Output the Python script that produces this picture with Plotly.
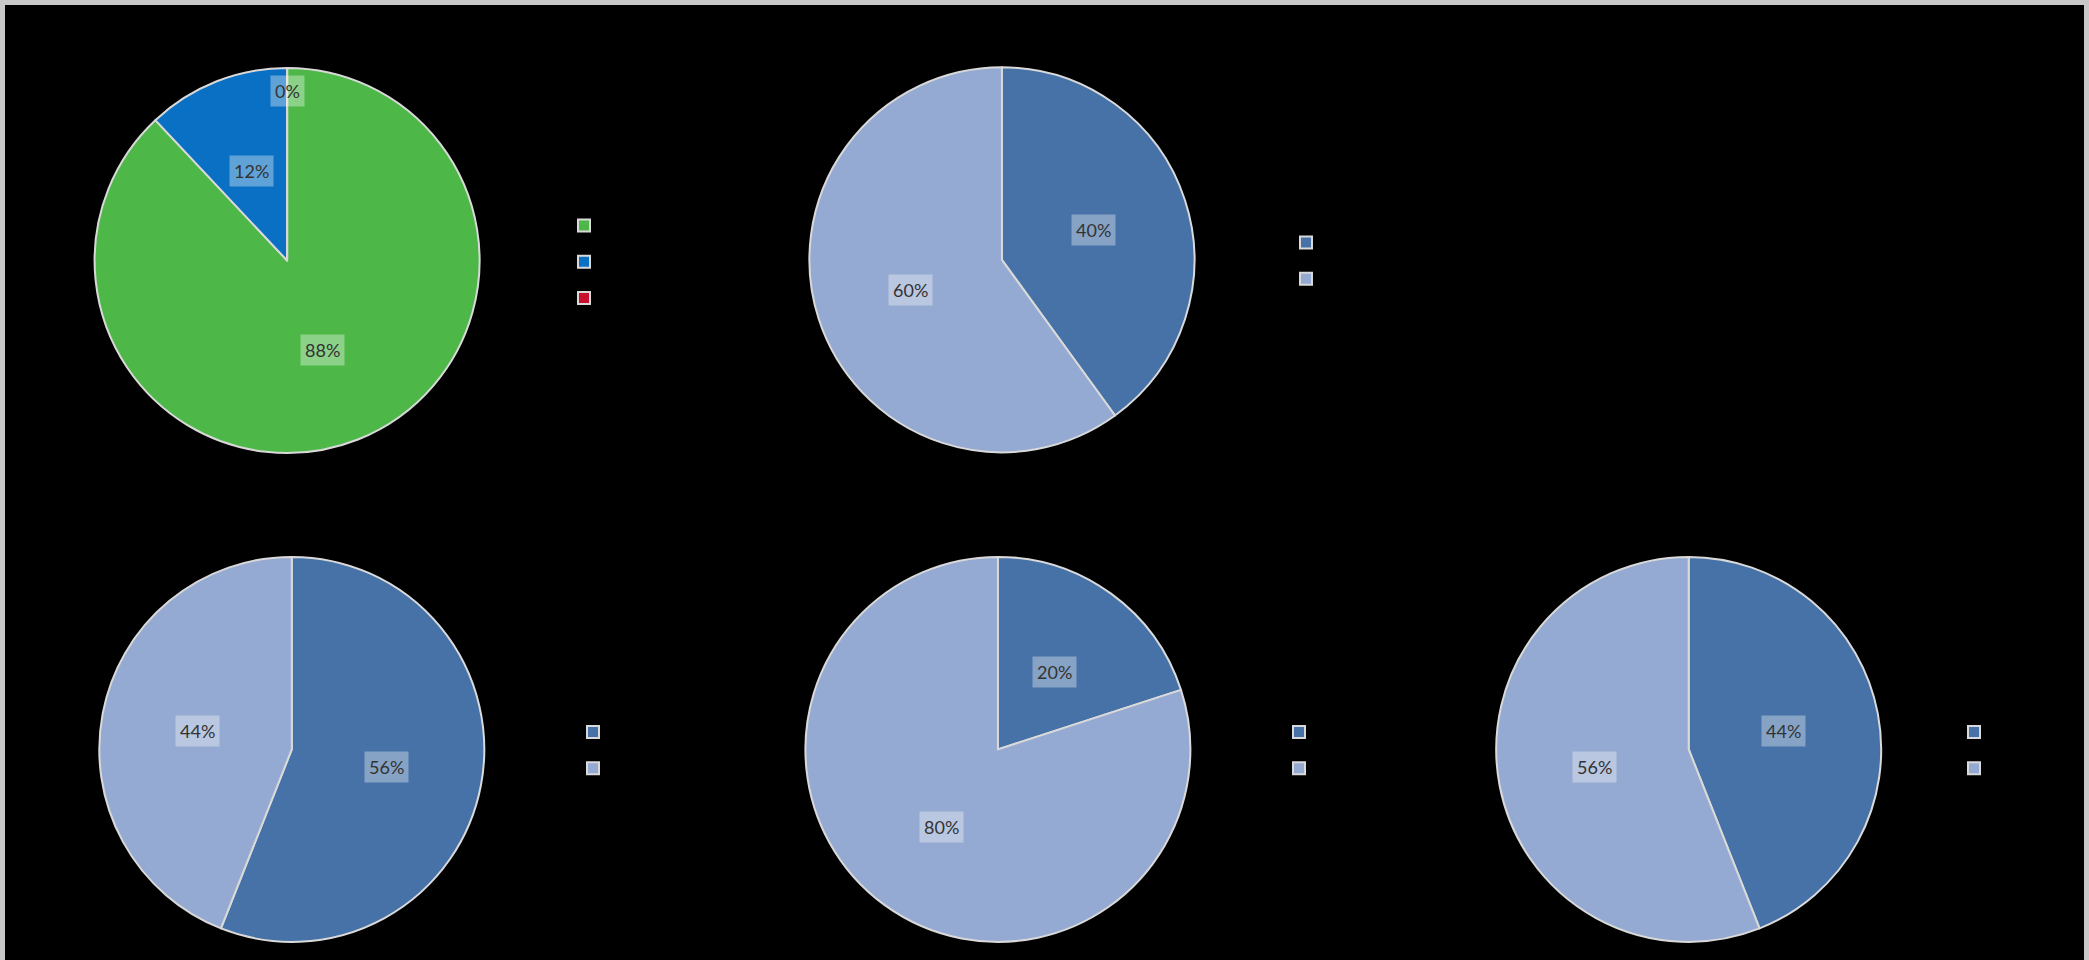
import math
import plotly.graph_objects as go

W, H = 2089, 960

# ---- data ----
pie1_labels = ["Yes 1", "No 1", "N/A 1"]
pie1_values = [88, 12, 0]
pie2_labels = ["Yes 2", "No 2"]
pie2_values = [40, 60]
pie3_labels = ["Yes 3", "No 3"]
pie3_values = [56, 44]
pie4_labels = ["Yes 4", "No 4"]
pie4_values = [20, 80]
pie5_labels = ["Yes 5", "No 5"]
pie5_values = [44, 56]

pie1_colors = ["#4DB848", "#0A70C4", "#C8102E"]
blue_colors = ["#4672A8", "#95AAD2"]

# layout: pie centres (px) and radius
R = 192.5
pies = [
    (pie1_labels, pie1_values, pie1_colors, (287.1, 260.5), (584, 262)),
    (pie2_labels, pie2_values, blue_colors, (1001.9, 259.8), (1306, 261)),
    (pie3_labels, pie3_values, blue_colors, (291.8, 749.4), (593, 750.5)),
    (pie4_labels, pie4_values, blue_colors, (997.9, 749.4), (1299, 750.5)),
    (pie5_labels, pie5_values, blue_colors, (1688.7, 749.4), (1974, 750.5)),
]

fig = go.Figure()
annotations = []
layout_legends = {}

for i, (labels, values, colors, (cx, cy), (lx, ly)) in enumerate(pies):
    legend_name = "legend" if i == 0 else f"legend{i+1}"
    fig.add_trace(go.Pie(
        labels=labels, values=values, sort=False, direction="clockwise", rotation=0,
        marker=dict(colors=colors, line=dict(color="#D9D9D9", width=2)),
        textinfo="none", hoverinfo="label+percent",
        domain=dict(x=[(cx - R) / W, (cx + R) / W], y=[1 - (cy + R) / H, 1 - (cy - R) / H]),
        legend=legend_name, showlegend=True,
    ))
    total = sum(values)
    cum = 0
    for v in values:
        frac = v / total
        mid = (cum + frac / 2) * 2 * math.pi
        cum += frac
        dist = 0.5 * R if v > 0 else 0.88 * R
        px = cx + math.sin(mid) * dist
        py = cy - math.cos(mid) * dist
        annotations.append(dict(
            x=px / W, y=1 - py / H, xref="paper", yref="paper",
            xanchor="center", yanchor="middle",
            text=f"{round(frac * 100)}%", showarrow=False,
            font=dict(family="Lato, Liberation Sans, sans-serif", size=18, color="#333333"),
            bgcolor="rgba(255,255,255,0.35)", borderpad=4,
        ))
    layout_legends[legend_name] = dict(
        x=(lx - 20) / W, y=1 - ly / H, xanchor="left", yanchor="middle",
        bgcolor="rgba(0,0,0,0)", font=dict(color="#000000", size=25.5),
        traceorder="normal",
    )

fig.update_layout(
    width=W, height=H,
    margin=dict(l=0, r=0, t=0, b=0),
    paper_bgcolor="#C8C8C8",
    plot_bgcolor="#000000",
    annotations=annotations,
    shapes=[dict(type="rect", xref="paper", yref="paper",
                 x0=5 / W, x1=(W - 5) / W, y0=-0.05, y1=1 - 5 / H,
                 fillcolor="#000000", line=dict(width=0), layer="below")],
    **layout_legends,
)

fig.write_html("out.html")
